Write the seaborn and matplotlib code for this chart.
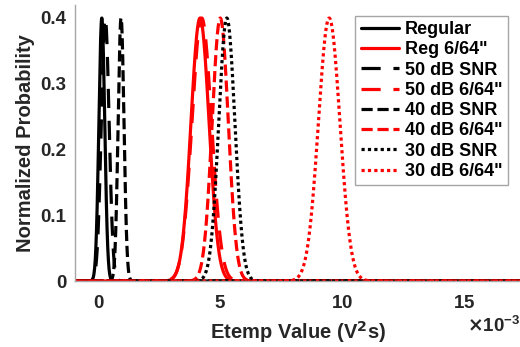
import numpy as np
import pandas as pd
import seaborn as sns
import matplotlib.pyplot as plt
from matplotlib.ticker import MultipleLocator, ScalarFormatter, FuncFormatter

# Series: gaussian centre and spread (V^2 s)
labels = ['Regular', 'Reg 6/64"', '50 dB SNR', '50 dB 6/64"',
          '40 dB SNR', '40 dB 6/64"', '30 dB SNR', '30 dB 6/64"']
means = [0.14e-3, 4.17e-3, 0.28e-3, 4.24e-3, 0.93e-3, 5.00e-3, 5.27e-3, 9.47e-3]
sigmas = [0.12e-3, 0.37e-3, 0.16e-3, 0.40e-3, 0.12e-3, 0.33e-3, 0.33e-3, 0.44e-3]
colors = ['black', 'red', 'black', 'red', 'black', 'red', 'black', 'red']
styles = ['-', '-', (0, (6, 4)), (0, (6, 4)), (0, (3.5, 1.5)), (0, (3.5, 1.5)),
          (0, (1, 1)), (0, (1, 1))]

x_ticks = [0, 5e-3, 10e-3, 15e-3]
y_ticks = [0, 0.1, 0.2, 0.3, 0.4]

sns.set_style('white')
plt.rcParams['font.family'] = ['Liberation Sans', 'DejaVu Sans']
plt.rcParams['font.weight'] = 'bold'
plt.rcParams['axes.labelweight'] = 'bold'
text_col = '#262626'

fig = plt.figure(figsize=(5.2, 3.47), dpi=100)
ax = fig.add_axes([75 / 520, 66 / 347, 445 / 520, 276 / 347])

x = np.linspace(-1e-3, 17.5e-3, 4000)
for lab, m, s, c, ls in zip(labels, means, sigmas, colors, styles):
    z = (x - m) / s
    df = pd.DataFrame({'x': x, 'p': np.exp(-0.5 * z ** 2) / np.sqrt(2 * np.pi)})
    sns.lineplot(data=df, x='x', y='p', ax=ax, color=c, linestyle=ls,
                 linewidth=2.3, label=lab)

ax.set_xlim(-0.96e-3, 17.3e-3)
ax.set_ylim(0, 0.4187)
ax.set_xticks(x_ticks)
fmt = ScalarFormatter(useMathText=True)
fmt.set_powerlimits((-3, -3))
ax.xaxis.set_major_formatter(fmt)
ax.set_yticks(y_ticks)
ax.yaxis.set_major_formatter(FuncFormatter(lambda v, p: f'{v:g}'))

for side in ['top', 'right']:
    ax.spines[side].set_visible(False)
for side in ['left', 'bottom']:
    ax.spines[side].set_color('#a6a6a6')
    ax.spines[side].set_linewidth(1.0)

ax.tick_params(axis='y', direction='out', length=3, width=1, color='#a6a6a6',
               pad=3, labelsize=13.5, labelcolor=text_col)
ax.tick_params(axis='x', length=0, pad=10, labelsize=13.5, labelcolor=text_col)
off = ax.xaxis.get_offset_text()
off.set_fontsize(13.5)
off.set_color(text_col)
off.set_fontweight('bold')

ax.set_xlabel('Etemp Value (V$^\\mathbf{2}$s)', fontsize=14.5, color=text_col, labelpad=5)
ax.set_ylabel('Normalized Probability', fontsize=14.5, color=text_col, labelpad=4)

leg = ax.legend(loc='upper right', bbox_to_anchor=(508 / 520, 1 - 15.7 / 347),
                bbox_transform=fig.transFigure, borderaxespad=0, fontsize=13,
                frameon=True, fancybox=False, framealpha=1, edgecolor='#a6a6a6',
                handlelength=2.1, handletextpad=0.35, labelspacing=0.18,
                borderpad=0.3)
leg.get_frame().set_linewidth(1.0)
for t in leg.get_texts():
    t.set_color('black')

fig.savefig('out.png', dpi=100)
